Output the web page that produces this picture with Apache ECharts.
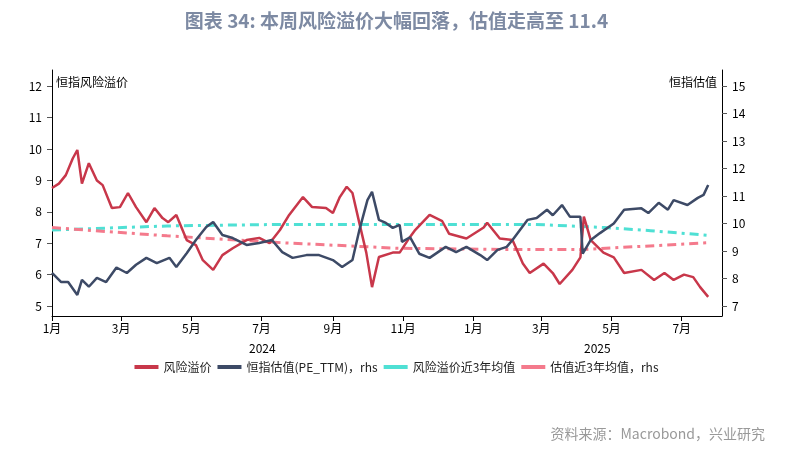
<!DOCTYPE html>
<html><head><meta charset="utf-8">
<script src="https://cdn.jsdelivr.net/npm/echarts@6/dist/echarts.min.js"></script>
<style>html,body{margin:0;padding:0;background:#fff}#c{width:793px;height:451px}</style>
</head><body><div id="c"></div>
<script>
// day offsets from 2024-01-01
const riskDays = [0,6,12,18,22,26,32,39,44,52,59,66,73,82,89,96,101,108,117,125,131,140,148,157,169,180,189,198,206,218,226,238,244,250,256,261,267,273,278,284,296,302,311,315,328,339,345,360,375,378,389,400,409,415,427,435,441,452,459,462,468,479,488,497,512,523,532,540,549,557,563,570];
const riskValues = [8.76,8.9,9.17,9.7,9.97,8.9,9.55,9.0,8.85,8.12,8.15,8.6,8.15,7.67,8.12,7.8,7.67,7.9,7.1,6.94,6.46,6.15,6.62,6.84,7.1,7.17,7.0,7.42,7.9,8.47,8.15,8.12,7.96,8.47,8.8,8.6,7.64,6.7,5.6,6.56,6.7,6.7,7.2,7.4,7.9,7.7,7.3,7.15,7.5,7.65,7.15,7.1,6.35,6.05,6.35,6.05,5.7,6.15,6.55,7.85,7.1,6.7,6.55,6.05,6.15,5.83,6.05,5.83,6.0,5.92,5.6,5.29];
const peDays = [0,8,14,22,26,32,39,47,56,65,73,82,91,102,108,117,125,134,140,148,157,169,180,191,200,209,221,232,244,252,261,267,274,278,284,290,296,302,304,311,315,319,328,342,351,360,372,378,387,395,400,413,421,430,435,443,450,459,461,468,476,488,497,512,518,527,535,540,552,561,566,570];
const peValues = [8.2,7.87,7.87,7.4,7.95,7.7,8.02,7.87,8.4,8.2,8.5,8.75,8.56,8.75,8.42,8.92,9.4,9.87,10.05,9.58,9.47,9.22,9.29,9.4,8.96,8.75,8.85,8.85,8.67,8.42,8.67,9.76,10.85,11.15,10.13,10.02,9.84,9.95,9.33,9.5,9.2,8.9,8.75,9.15,8.96,9.15,8.85,8.67,9.04,9.15,9.4,10.13,10.2,10.5,10.3,10.67,10.24,10.24,8.9,9.4,9.65,10.0,10.5,10.55,10.38,10.75,10.5,10.85,10.67,10.93,11.04,11.4];
const riskAvgDays = [0,100,200,300,420,480,520,570];
const riskAvgValues = [7.42,7.55,7.6,7.6,7.6,7.5,7.4,7.25];
const peAvgDays = [0,100,200,300,400,460,570];
const peAvgValues = [9.85,9.55,9.3,9.1,9.05,9.05,9.3];
const totalDays = 583;
const seriesNames = ['风险溢价','恒指估值(PE_TTM)，rhs','风险溢价近3年均值','估值近3年均值，rhs'];

const start = Date.UTC(2024,0,1);
const cats = [];
for (let i=0;i<totalDays;i++){const d=new Date(start+i*86400000);cats.push(d.toISOString().slice(0,10));}
const pair = (days, vals) => days.map((d,i)=>[cats[d], vals[i]]);
const isTick = (idx) => { const s=cats[idx]; return s.slice(8)==='01' && (+s.slice(5,7))%2===1; };
const font = '"Noto Sans CJK SC", sans-serif';
const ch = echarts.init(document.getElementById('c'));
ch.setOption({
  animation:false,
  title:{text:'图表 34: 本周风险溢价大幅回落，估值走高至 11.4',left:'center',top:6,textStyle:{color:'#7d8aa3',fontSize:19,fontWeight:'bold',fontFamily:font}},
  grid:{left:52,right:71,top:70,bottom:135},
  legend:{bottom:73,left:'center',itemWidth:24,itemHeight:4,itemGap:6,textStyle:{fontSize:12,fontFamily:font,color:'#222'},
    data:seriesNames.map(n=>({name:n,icon:'rect'}))},
  xAxis:{type:'category',data:cats,boundaryGap:false,
    axisLine:{lineStyle:{color:'#000'}},
    axisTick:{interval:(i)=>isTick(i),length:5,lineStyle:{color:'#000'}},
    axisLabel:{interval:(i)=>isTick(i),formatter:(v)=>(+v.slice(5,7))+'月',color:'#000',fontSize:12,fontFamily:font,margin:6}},
  yAxis:[
    {type:'value',min:4.68,max:12.52,splitNumber:8,splitLine:{show:false},
     axisLine:{show:true,lineStyle:{color:'#000'}},axisTick:{show:true,length:5,lineStyle:{color:'#555'}},
     axisLabel:{showMinLabel:false,showMaxLabel:false,color:'#000',fontSize:12,fontFamily:font,margin:10}},
    {type:'value',min:6.636,max:15.58,splitNumber:9,splitLine:{show:false},position:'right',
     axisLine:{show:true,lineStyle:{color:'#000'}},axisTick:{show:true,length:5,lineStyle:{color:'#555'}},
     axisLabel:{showMinLabel:false,showMaxLabel:false,color:'#000',fontSize:12,fontFamily:font,margin:10}}
  ],
  graphic:[
    {type:'text',left:56,top:76,style:{text:'恒指风险溢价',fontSize:12,fontFamily:font,fill:'#000'}},
    {type:'text',right:76,top:76,style:{text:'恒指估值',fontSize:12,fontFamily:font,fill:'#000'}},
    {type:'text',left:249,top:342,style:{text:'2024',fontSize:12,fontFamily:font,fill:'#000'}},
    {type:'text',left:584,top:342,style:{text:'2025',fontSize:12,fontFamily:font,fill:'#000'}},
    {type:'text',right:28,top:427,style:{text:'资料来源：Macrobond，兴业研究',fontSize:14,fontFamily:font,fill:'#999'}}
  ],
  series:[
    {name:seriesNames[0],type:'line',yAxisIndex:0,showSymbol:false,data:pair(riskDays,riskValues),lineStyle:{color:'#c8374a',width:2.5},itemStyle:{color:'#c8374a'},z:3},
    {name:seriesNames[1],type:'line',yAxisIndex:1,showSymbol:false,data:pair(peDays,peValues),lineStyle:{color:'#3d4a66',width:2.5},itemStyle:{color:'#3d4a66'},z:4},
    {name:seriesNames[2],type:'line',yAxisIndex:0,showSymbol:false,data:pair(riskAvgDays,riskAvgValues),lineStyle:{color:'#4fe0d4',width:3,type:[9,5,3,5]},itemStyle:{color:'#4fe0d4'},z:2},
    {name:seriesNames[3],type:'line',yAxisIndex:1,showSymbol:false,data:pair(peAvgDays,peAvgValues),lineStyle:{color:'#f47a8c',width:3,type:[9,5,3,5]},itemStyle:{color:'#f47a8c'},z:2}
  ]
});
</script></body></html>
